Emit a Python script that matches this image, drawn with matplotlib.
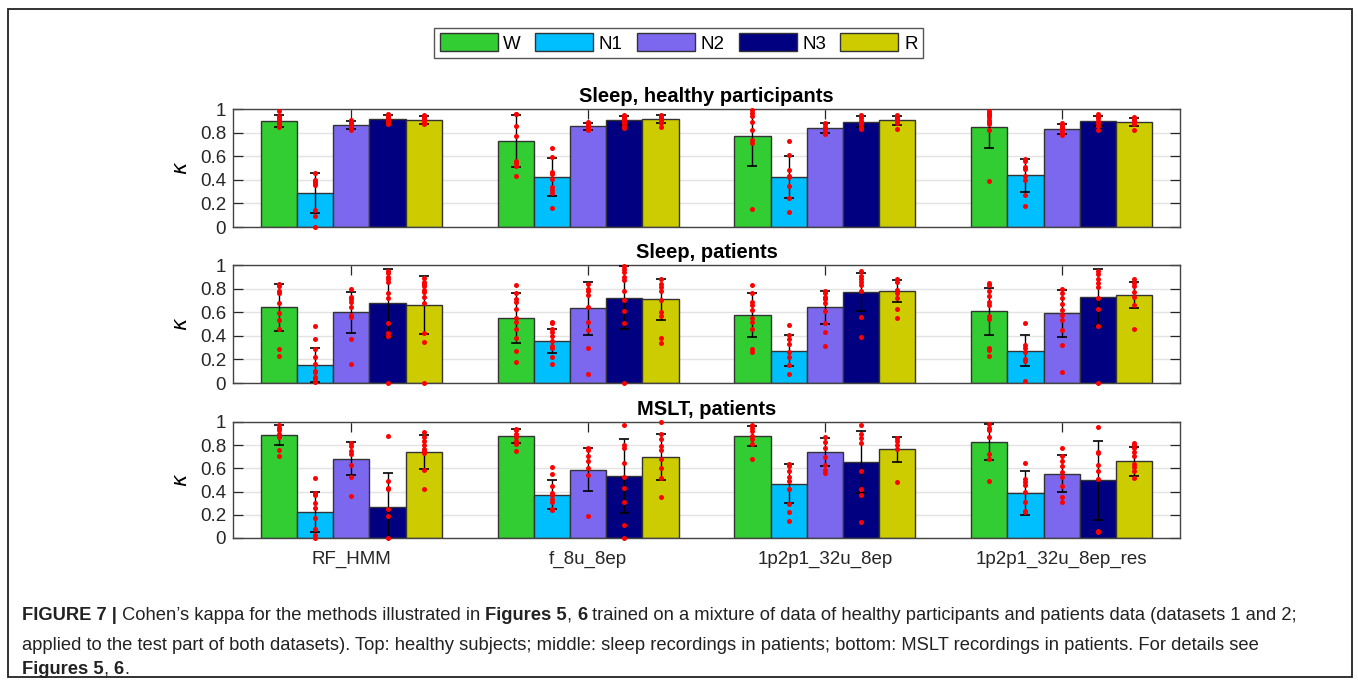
import numpy as np
import matplotlib
matplotlib.use("Agg")
import matplotlib.pyplot as plt
from matplotlib.patches import Rectangle

plt.rcParams['font.family'] = ['Liberation Sans', 'DejaVu Sans']

methods = ['RF_HMM', 'f_8u_8ep', '1p2p1_32u_8ep', '1p2p1_32u_8ep_res']
stages = ['W', 'N1', 'N2', 'N3', 'R']
stage_colors = ['#32cd32', '#00bfff', '#7b68ee', '#000080', '#cccc00']

# kappa mean / std per method (rows) and stage (cols)
healthy_mean = [[0.898, 0.287, 0.864, 0.915, 0.906],
                [0.727, 0.423, 0.852, 0.903, 0.915],
                [0.767, 0.420, 0.838, 0.892, 0.903],
                [0.844, 0.440, 0.830, 0.895, 0.890]]
healthy_std = [[0.049, 0.170, 0.032, 0.035, 0.033],
               [0.222, 0.164, 0.028, 0.037, 0.035],
               [0.250, 0.178, 0.040, 0.047, 0.037],
               [0.176, 0.140, 0.042, 0.043, 0.034]]
healthy_pts = [
    [[0.98, 0.94, 0.92, 0.91, 0.90, 0.89, 0.88, 0.87, 0.86, 0.85],
     [0.46, 0.40, 0.39, 0.37, 0.36, 0.14, 0.09, 0.0],
     [0.91, 0.89, 0.88, 0.87, 0.86, 0.85, 0.84, 0.82],
     [0.96, 0.95, 0.94, 0.93, 0.92, 0.91, 0.90, 0.89, 0.88, 0.87],
     [0.95, 0.94, 0.93, 0.92, 0.91, 0.90, 0.89, 0.88, 0.875]],
    [[0.96, 0.955, 0.86, 0.77, 0.56, 0.54, 0.52, 0.43],
     [0.67, 0.59, 0.47, 0.45, 0.41, 0.34, 0.31, 0.29, 0.16],
     [0.89, 0.88, 0.87, 0.86, 0.85, 0.84, 0.83, 0.82],
     [0.95, 0.94, 0.93, 0.92, 0.91, 0.90, 0.88, 0.86, 0.84],
     [0.95, 0.94, 0.93, 0.92, 0.91, 0.90, 0.88, 0.85]],
    [[0.99, 0.97, 0.94, 0.89, 0.82, 0.74, 0.71, 0.15],
     [0.73, 0.61, 0.48, 0.43, 0.42, 0.35, 0.25, 0.13],
     [0.88, 0.87, 0.85, 0.84, 0.83, 0.82, 0.80, 0.79],
     [0.95, 0.94, 0.92, 0.90, 0.89, 0.87, 0.85, 0.83],
     [0.95, 0.94, 0.93, 0.92, 0.91, 0.90, 0.88, 0.83]],
    [[0.98, 0.97, 0.96, 0.95, 0.93, 0.91, 0.89, 0.87, 0.82, 0.39],
     [0.58, 0.56, 0.51, 0.49, 0.43, 0.40, 0.27, 0.18],
     [0.88, 0.87, 0.86, 0.84, 0.82, 0.80, 0.79, 0.78],
     [0.96, 0.94, 0.93, 0.92, 0.90, 0.88, 0.86, 0.82],
     [0.93, 0.92, 0.91, 0.90, 0.89, 0.87, 0.82]]]

patients_mean = [[0.640, 0.150, 0.598, 0.680, 0.663],
                 [0.550, 0.354, 0.632, 0.722, 0.708],
                 [0.575, 0.275, 0.640, 0.770, 0.780],
                 [0.606, 0.275, 0.590, 0.725, 0.745]]
patients_std = [[0.197, 0.145, 0.171, 0.286, 0.248],
                [0.209, 0.103, 0.223, 0.267, 0.176],
                [0.185, 0.134, 0.138, 0.159, 0.096],
                [0.203, 0.129, 0.199, 0.243, 0.107]]
patients_pts = [
    [[0.84, 0.82, 0.78, 0.76, 0.68, 0.59, 0.53, 0.46, 0.29, 0.23],
     [0.48, 0.37, 0.29, 0.22, 0.16, 0.10, 0.09, 0.05, 0.03, 0.01],
     [0.80, 0.73, 0.71, 0.69, 0.64, 0.58, 0.56, 0.37, 0.16],
     [0.95, 0.93, 0.90, 0.88, 0.86, 0.76, 0.72, 0.51, 0.42, 0.40, 0.0],
     [0.89, 0.86, 0.84, 0.82, 0.79, 0.77, 0.73, 0.68, 0.42, 0.35, 0.0]],
    [[0.83, 0.76, 0.71, 0.69, 0.63, 0.55, 0.52, 0.46, 0.38, 0.27, 0.18],
     [0.52, 0.51, 0.46, 0.43, 0.40, 0.36, 0.31, 0.30, 0.22, 0.16],
     [0.84, 0.80, 0.78, 0.75, 0.64, 0.52, 0.45, 0.30, 0.08],
     [0.99, 0.97, 0.94, 0.90, 0.87, 0.78, 0.70, 0.61, 0.51, 0.0],
     [0.88, 0.84, 0.81, 0.78, 0.70, 0.60, 0.57, 0.38, 0.34]],
    [[0.83, 0.76, 0.69, 0.66, 0.62, 0.55, 0.52, 0.46, 0.29, 0.26],
     [0.49, 0.41, 0.37, 0.33, 0.26, 0.22, 0.15, 0.08],
     [0.78, 0.76, 0.73, 0.71, 0.68, 0.61, 0.51, 0.43, 0.31],
     [0.95, 0.91, 0.88, 0.86, 0.83, 0.78, 0.56, 0.39],
     [0.88, 0.86, 0.79, 0.76, 0.72, 0.63, 0.55]],
    [[0.85, 0.83, 0.78, 0.74, 0.69, 0.66, 0.57, 0.54, 0.30, 0.28, 0.23],
     [0.51, 0.32, 0.30, 0.26, 0.20, 0.19, 0.02],
     [0.80, 0.76, 0.72, 0.67, 0.62, 0.58, 0.53, 0.45, 0.32, 0.09],
     [0.95, 0.92, 0.88, 0.85, 0.81, 0.72, 0.63, 0.48, 0.0],
     [0.88, 0.85, 0.82, 0.77, 0.73, 0.66, 0.46]]]

mslt_mean = [[0.888, 0.224, 0.684, 0.264, 0.741],
             [0.879, 0.374, 0.589, 0.534, 0.695],
             [0.879, 0.466, 0.741, 0.655, 0.767],
             [0.828, 0.388, 0.555, 0.497, 0.661]]
mslt_std = [[0.083, 0.169, 0.144, 0.293, 0.144],
            [0.060, 0.124, 0.184, 0.319, 0.198],
            [0.088, 0.168, 0.118, 0.268, 0.108],
            [0.153, 0.188, 0.157, 0.341, 0.124]]
mslt_pts = [
    [[0.97, 0.95, 0.93, 0.90, 0.87, 0.76, 0.71],
     [0.52, 0.39, 0.37, 0.30, 0.26, 0.17, 0.08, 0.03, 0.0],
     [0.82, 0.79, 0.75, 0.72, 0.63, 0.53, 0.36],
     [0.88, 0.49, 0.43, 0.42, 0.25, 0.19, 0.0],
     [0.91, 0.87, 0.84, 0.80, 0.77, 0.75, 0.73, 0.59, 0.42]],
    [[0.94, 0.93, 0.90, 0.87, 0.84, 0.81, 0.75],
     [0.61, 0.55, 0.45, 0.39, 0.37, 0.34, 0.31, 0.25, 0.24],
     [0.78, 0.76, 0.71, 0.66, 0.60, 0.54, 0.19],
     [0.97, 0.80, 0.78, 0.65, 0.53, 0.43, 0.31, 0.11, 0.0],
     [1.0, 0.90, 0.85, 0.79, 0.76, 0.68, 0.60, 0.52, 0.35]],
    [[0.97, 0.95, 0.92, 0.88, 0.85, 0.81, 0.68],
     [0.64, 0.62, 0.58, 0.53, 0.49, 0.42, 0.29, 0.22, 0.15],
     [0.87, 0.83, 0.78, 0.70, 0.63, 0.59, 0.56],
     [0.97, 0.90, 0.86, 0.82, 0.58, 0.42, 0.37, 0.14],
     [0.86, 0.84, 0.80, 0.77, 0.48]],
    [[0.98, 0.95, 0.93, 0.87, 0.72, 0.68, 0.49],
     [0.65, 0.51, 0.48, 0.46, 0.40, 0.31, 0.23, 0.22],
     [0.78, 0.71, 0.66, 0.62, 0.57, 0.53, 0.45, 0.35, 0.31],
     [0.96, 0.74, 0.73, 0.63, 0.58, 0.51, 0.06, 0.05],
     [0.82, 0.80, 0.78, 0.74, 0.71, 0.64, 0.61, 0.58, 0.52]]]

panels = [('Sleep, healthy participants', healthy_mean, healthy_std, healthy_pts),
          ('Sleep, patients', patients_mean, patients_std, patients_pts),
          ('MSLT, patients', mslt_mean, mslt_std, mslt_pts)]

W, H = 1358, 685
fig = plt.figure(figsize=(W / 100, H / 100), dpi=100)

# frame around the whole figure
fig.patches.append(Rectangle((8 / W, 1 - 677 / H), 1344 / W, 668 / H,
                             transform=fig.transFigure, fill=False,
                             edgecolor='#222222', lw=1.3))

ax_boxes = [(109, 227), (265, 383), (422, 538)]
x = np.arange(1, len(methods) + 1)
bw = 0.153
handles = []
for i, (title, mean, std, pts) in enumerate(panels):
    top, bot = ax_boxes[i]
    ax = fig.add_axes([233 / W, 1 - bot / H, (1180 - 233) / W, (bot - top) / H])
    mean = np.array(mean)
    std = np.array(std)
    for s in range(len(stages)):
        xs = x + (s - 2) * bw
        b = ax.bar(xs, mean[:, s], width=bw, color=stage_colors[s],
                   edgecolor='#333333', linewidth=1.0, zorder=2, label=stages[s])
        if i == 0:
            handles.append(b)
        ax.errorbar(xs, mean[:, s], yerr=std[:, s], fmt='none', ecolor='black',
                    elinewidth=1.0, capsize=3.8, capthick=1.2, zorder=3)
        for m in range(len(methods)):
            p = pts[m][s]
            ax.plot([xs[m]] * len(p), p, 'o', color='red', markersize=3.6,
                    markeredgewidth=0, zorder=4, clip_on=False)
    ax.set_xlim(0.5, 4.5)
    ax.set_ylim(0, 1)
    ax.set_yticks(np.arange(0, 1.01, 0.2))
    ax.set_yticklabels(['0', '0.2', '0.4', '0.6', '0.8', '1'])
    ax.set_xticks(x)
    if i == 2:
        ax.set_xticklabels(methods, fontsize=13.5, color='#262626')
    else:
        ax.set_xticklabels([])
    ax.tick_params(direction='in', top=True, right=True, length=7, width=0.9,
                   labelsize=13.5, colors='#262626', pad=5)
    ax.tick_params(axis='x', pad=9)
    ax.yaxis.grid(True, color='#e3e3e3', lw=1.0)
    ax.set_axisbelow(True)
    for sp in ax.spines.values():
        sp.set_color('#444444')
        sp.set_linewidth(1.0)
    ax.set_ylabel(r'$\kappa$', fontsize=15, labelpad=6)
    ax.set_title(title, fontsize=14.5, fontweight='bold', pad=5)

fig.legend(handles=handles, labels=stages, loc='center', ncol=5,
           bbox_to_anchor=(678.5 / W, 1 - 43 / H), fontsize=13.5,
           handlelength=3.1, handleheight=1.05, handletextpad=0.3,
           columnspacing=0.75, borderpad=0.3, fancybox=False,
           edgecolor='#555555', framealpha=1)

# caption, mixed bold / regular runs laid out one after another
cap_font = ['Liberation Sans Narrow', 'Liberation Sans', 'DejaVu Sans']
caption = [
    (616, [('FIGURE 7 |', 'bold'),
           (' Cohen\u2019s kappa for the methods illustrated in ', 'normal'),
           ('Figures 5', 'bold'), (', ', 'normal'), ('6', 'bold'),
           (' trained on a mixture of data of healthy participants and patients data (datasets 1 and 2;', 'normal')]),
    (645, [('applied to the test part of both datasets). Top: healthy subjects; middle: sleep recordings '
            'in patients; bottom: MSLT recordings in patients. For details see', 'normal')]),
    (670, [('Figures 5', 'bold'), (', ', 'normal'), ('6', 'bold'), ('.', 'normal')]),
]
renderer = fig.canvas.get_renderer()
for ypix, runs in caption:
    xpix = 22
    for txt, wt in runs:
        t = fig.text(xpix / W, 1 - ypix / H, txt, fontsize=13.2, fontweight=wt,
                     family=cap_font, va='center', ha='left', color='#222222')
        bb = t.get_window_extent(renderer=renderer)
        xpix += bb.width

fig.savefig('out.png', dpi=100)
